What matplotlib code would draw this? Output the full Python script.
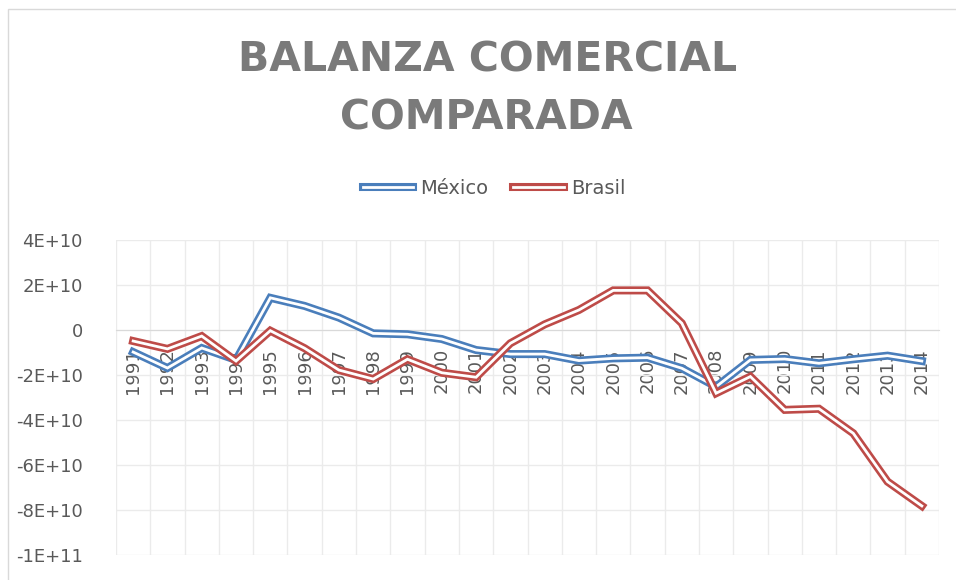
import matplotlib
matplotlib.use("Agg")
import matplotlib.pyplot as plt
import matplotlib.patheffects as pe
from matplotlib.ticker import FuncFormatter, MultipleLocator, FixedLocator, FixedFormatter
from matplotlib.patches import Rectangle

years = [str(y) for y in range(1991, 2015)]
mexico = [-9.8e9, -16.9e9, -8.0e9, -13.3e9, 14.3e9, 10.7e9, 5.5e9, -1.5e9, -1.9e9, -4.0e9,
          -8.9e9, -10.7e9, -10.7e9, -13.6e9, -12.6e9, -12.3e9, -17.0e9, -25.2e9, -13.3e9,
          -12.9e9, -14.8e9, -13.0e9, -11.4e9, -13.8e9]
brasil = [-4.9e9, -8.4e9, -2.7e9, -13.8e9, -0.3e9, -8.1e9, -17.8e9, -21.8e9, -13.0e9, -19.0e9,
          -21.0e9, -5.9e9, 2.5e9, 8.9e9, 17.6e9, 17.6e9, 3.0e9, -28.1e9, -20.7e9,
          -35.5e9, -35.0e9, -45.9e9, -67.4e9, -78.2e9]
series_names = ["México", "Brasil"]
colors = ["#4A7EBB", "#BE4B48"]

W, H = 956, 580
fig = plt.figure(figsize=(W / 100, H / 100), dpi=100)

# chart border
fig.patches.append(Rectangle((8 / W, -0.1), 1.2, 1 - 9 / H + 0.1, transform=fig.transFigure,
                             fill=False, edgecolor="#D9D9D9", linewidth=1.0))

ax = fig.add_axes([116 / W, 1 - 555 / H, (939 - 116) / W, (555 - 240) / H])
x = list(range(len(years)))

for vals, name, c in zip([mexico, brasil], series_names, colors):
    ax.plot(x, vals, color="white", linewidth=2.0, label=name, solid_joinstyle="miter",
            path_effects=[pe.Stroke(linewidth=5.8, foreground=c), pe.Normal()], zorder=3)

ax.set_xlim(-0.5, len(years) - 0.5)
ax.set_ylim(-1e11, 4e10)
ax.yaxis.set_major_locator(MultipleLocator(2e10))


def yfmt(v, pos):
    if abs(v) < 1:
        return "0"
    return format(v, ".0E").replace("E+0", "E+")


ax.yaxis.set_major_formatter(FuncFormatter(yfmt))
ax.xaxis.set_major_locator(FixedLocator(x))
ax.xaxis.set_major_formatter(FixedFormatter(years))
ax.xaxis.set_minor_locator(FixedLocator([i - 0.5 for i in range(len(years) + 1)]))

ax.grid(True, which="major", axis="y", color="#EBEBEB", linewidth=1.0)
ax.grid(True, which="minor", axis="x", color="#EBEBEB", linewidth=1.0)
ax.set_axisbelow(True)

for s in ["top", "right", "left"]:
    ax.spines[s].set_visible(False)
ax.spines["bottom"].set_position(("data", 0))
ax.spines["bottom"].set_color("#D9D9D9")
ax.spines["bottom"].set_zorder(1)

ax.tick_params(axis="x", which="both", length=0, pad=13, labelsize=13, labelcolor="#595959",
               labelrotation=90)
ax.tick_params(axis="y", length=0, pad=24, labelsize=13, labelcolor="#595959")
for lbl in ax.get_xticklabels():
    lbl.set_zorder(2)

fig.text(488 / W, 1 - 60 / H, "BALANZA COMERCIAL", ha="center", va="center",
         fontsize=29.5, fontweight="bold", color="#7A7A7A")
fig.text(486 / W, 1 - 118 / H, "COMPARADA", ha="center", va="center",
         fontsize=29.5, fontweight="bold", color="#7A7A7A")

handles, labels = ax.get_legend_handles_labels()
fig.legend(handles, labels, loc="center", bbox_to_anchor=(494 / W, 1 - 188 / H), ncol=2,
           frameon=False, fontsize=14, labelcolor="#595959", handlelength=2.6,
           handletextpad=0.35, columnspacing=1.3)

fig.savefig("out.png", dpi=100, facecolor="white")
